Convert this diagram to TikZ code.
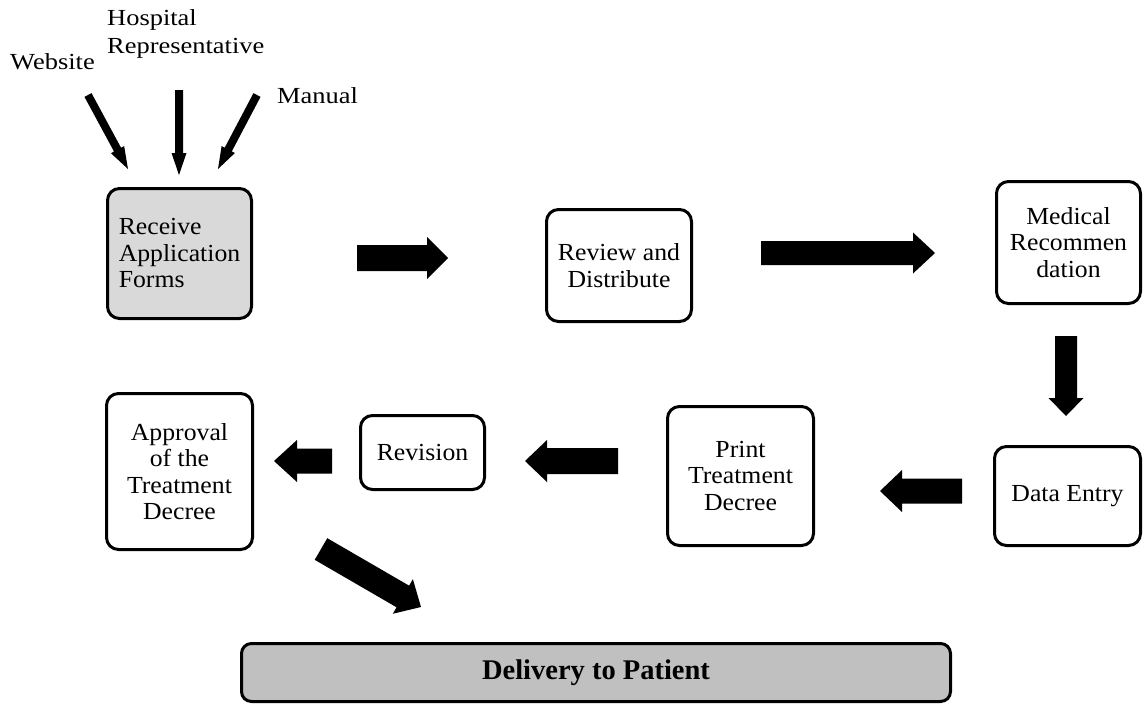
\documentclass[tikz,border=0pt]{standalone}
\usepackage{fontspec}
\setmainfont{Liberation Serif}
\newfontfamily\sourcefont{Liberation Serif}[FakeStretch=1.15]
\newfontfamily\stagefont{Liberation Serif}[FakeStretch=1.05]
\usetikzlibrary{calc}

\definecolor{formgray}{HTML}{D9D9D9}
\definecolor{bargray}{HTML}{C0C0C0}

\tikzset{
  stage/.style={draw=black, line width=3pt, rounded corners=12pt, fill=white,
    align=center, inner sep=2pt, font=\stagefont\fontsize{24.5}{26.5}\selectfont},
  source/.style={font=\sourcefont\fontsize{23}{28}\selectfont, inner sep=0pt},
  flowfill/.style={fill=black},
}

% block arrow: tail, tip, half body width, half head width, head length
\newcommand\blockarrow[5]{%
  \path ($(#2)!#5!(#1)$) coordinate (ba-h);
  \fill[flowfill] ($(#1)!#3!90:(#2)$) -- ($(ba-h)!#3!-90:(#1)$)
    -- ($(ba-h)!#4!-90:(#1)$) -- (#2) -- ($(ba-h)!#4!90:(#1)$)
    -- ($(ba-h)!#3!90:(#1)$) -- ($(#1)!#3!-90:(#2)$) -- cycle;}

\begin{document}
\begin{tikzpicture}[x=1pt, y=-1pt]
\useasboundingbox[fill=white] (0,0) rectangle (1146,707);

% incoming sources
\node[source, anchor=west] (website) at (10,62) {Website};
\node[source, anchor=west, align=left] (hospital) at (107,34) {Hospital\\Representative};
\node[source, anchor=west] (manual) at (277,96) {Manual};

% process stages
\node[stage, fill=formgray, align=left, minimum width=144pt, minimum height=130pt]
  (recv) at (179.5,253.5) {Receive\\Application\\Forms};
\node[stage, minimum width=145pt, minimum height=112pt]
  (review) at (619,265.5) {Review and\\Distribute};
\node[stage, minimum width=144pt, minimum height=122pt]
  (medical) at (1068.5,242.5) {Medical\\Recommen\\dation};
\node[stage, minimum width=146pt, minimum height=99pt]
  (data) at (1067.5,496) {Data Entry};
\node[stage, minimum width=146pt, minimum height=139pt]
  (print) at (740.5,476) {Print\\Treatment\\Decree};
\node[stage, minimum width=124pt, minimum height=74pt]
  (revision) at (422.5,452.5) {Revision};
\node[stage, minimum width=146pt, minimum height=156pt]
  (approval) at (179.5,471.5) {Approval\\of the\\Treatment\\Decree};
\node[draw=black, line width=3pt, fill=bargray, rounded corners=10pt,
  minimum width=709pt, minimum height=58pt,
  font=\bfseries\fontsize{28.5}{30}\selectfont]
  (deliver) at (596,672.5) {Delivery to Patient};

% arrow end points
\coordinate (w-t) at (88,95);    \coordinate (w-p) at (128,169);
\coordinate (h-t) at (179,90);   \coordinate (h-p) at (179,175);
\coordinate (m-t) at (257,95);   \coordinate (m-p) at (218,169);
\coordinate (a1-t) at (357,258); \coordinate (a1-p) at (448,258);
\coordinate (a2-t) at (761,253); \coordinate (a2-p) at (935,253);
\coordinate (a3-t) at (1066,336);\coordinate (a3-p) at (1066,416);
\coordinate (a4-t) at (962,491); \coordinate (a4-p) at (880,491);
\coordinate (a5-t) at (618,461); \coordinate (a5-p) at (525,461);
\coordinate (a6-t) at (332,461); \coordinate (a6-p) at (274,461);
\coordinate (a7-t) at (321,549); \coordinate (a7-p) at (421,607);

% source arrows
\blockarrow{w-t}{w-p}{4pt}{7.5pt}{22pt}
\blockarrow{h-t}{h-p}{4pt}{7.5pt}{22pt}
\blockarrow{m-t}{m-p}{4pt}{7.5pt}{22pt}

% flow arrows
\blockarrow{a1-t}{a1-p}{13pt}{21pt}{21pt}
\blockarrow{a2-t}{a2-p}{12pt}{20.5pt}{22pt}
\blockarrow{a3-t}{a3-p}{11pt}{17.5pt}{18pt}
\blockarrow{a4-t}{a4-p}{12.5pt}{21pt}{22pt}
\blockarrow{a5-t}{a5-p}{13pt}{21pt}{22pt}
\blockarrow{a6-t}{a6-p}{12.5pt}{21pt}{23pt}
\blockarrow{a7-t}{a7-p}{12.5pt}{20pt}{21pt}
\end{tikzpicture}
\end{document}
